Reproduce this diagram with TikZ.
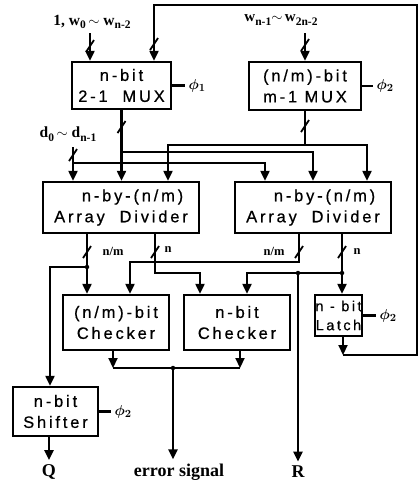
\documentclass[tikz,border=0pt]{standalone}
\usepackage{amsmath}
\usepackage{fontspec}
\setmainfont{Liberation Serif}
\newfontfamily\boxfont{Liberation Sans}[LetterSpace=17,FakeBold=0.6]
\usepackage{tikz}
\usetikzlibrary{positioning,calc,arrows.meta}

\newcommand{\lo}[1]{\raisebox{-0.5ex}{\fontsize{11.5}{10}\selectfont #1}}
\newcommand{\clk}[1]{{\fontsize{15}{15}\selectfont\boldmath$\phi_{#1}$}}
\newcommand{\busmark}[1]{\draw[line width=1.8pt] ($(#1)+(-4,6)$) -- ($(#1)+(4,-6)$);}

\begin{document}
\begin{tikzpicture}[x=1pt, y=-1pt, line width=2.2pt,
  blk/.style={draw, line width=2.4pt, align=center, inner sep=0pt,
    font=\boxfont\fontsize{16.5}{21}\selectfont},
  lbl/.style={font=\bfseries\fontsize{15.5}{15}\selectfont},
  blbl/.style={font=\bfseries\fontsize{12.5}{12}\selectfont},
  olbl/.style={font=\bfseries\fontsize{18}{18}\selectfont},
  bus/.style={-{Triangle[length=10pt,width=9pt]}},
  jdot/.style={circle, fill, inner sep=0pt, minimum size=4.5pt}]
  \useasboundingbox (0,0) rectangle (420,485);

  % MUX stage
  \node[blk, minimum width=99pt, minimum height=47pt] (mux1) at (121.5,85.5) {n-bit\\2-1 \ MUX};
  \node[blk, minimum width=112pt, minimum height=48pt] (mux2) at (305,86) {(n/m)-bit\\m-1 MUX};
  \node[lbl] (win1) at (92,22) {1,\ w\lo{0}\,$\sim$\ w\lo{n-2}};
  \node[lbl, font=\bfseries\fontsize{15}{15}\selectfont] (win2) at (281,20) {w\lo{n-1}$\sim$\,w\lo{2n-2}};
  \coordinate (a1) at (90,33);
  \coordinate (a2) at (305,33);
  \draw[bus] (a1) -- (a1 |- mux1.north);
  \draw[bus] (a2) -- (a2 |- mux2.north);
  \draw (mux1.east) -- ++(13,0) node[right=-1pt] (ph1) {\clk1};
  \draw (mux2.east) -- ++(11,0) node[right=-1pt] (ph2) {\clk2};

  % Dividers
  \node[blk, minimum width=156pt, minimum height=51pt] (div1) at (121,207.5) {\hspace*{1.4em}n-by-(n/m)\\Array \ Divider};
  \node[blk, minimum width=156pt, minimum height=51pt] (div2) at (313,207.5) {\hspace*{1.4em}n-by-(n/m)\\Array \ Divider};
  \node[lbl] (din) at (68,134) {d\lo{0}\,$\sim$\ d\lo{n-1}};
  \coordinate (d0) at (73,147);
  \coordinate (j1) at (121.5,152);
  \coordinate (j2) at (305,145);
  \coordinate (j3) at (73,163);
  \draw[bus] (d0) -- (d0 |- div1.north);
  \draw[bus] (j3) -| (div2.north -| 265,0);
  \draw[bus] (mux1.south) -- (mux1.south |- div1.north);
  \draw[bus] (j1) -| (div2.north);
  \draw (mux2.south) -- (j2);
  \draw[bus] (j2) -| (div1.north -| 168,0);
  \draw[bus] (j2) -| (div2.north -| 367,0);

  % Checkers, latch, shifter
  \node[blk, minimum width=106pt, minimum height=55pt] (chk1) at (116,322.5) {(n/m)-bit\\Checker};
  \node[blk, minimum width=106pt, minimum height=55pt] (chk2) at (237,322.5) {n-bit\\Checker};
  \node[blk, minimum width=47pt, minimum height=41pt, font=\boxfont\fontsize{14.5}{19}\selectfont] (latch) at (338.5,315.5) {n - bit\\Latch};
  \node[blk, minimum width=85pt, minimum height=49pt] (shift) at (55.5,411.5) {n-bit\\Shifter};
  \draw (latch.east) -- ++(13,0) node[right=-1pt] (ph3) {\clk2};
  \draw (shift.east) -- ++(12,0) node[right=-1pt] (ph4) {\clk2};

  % divider outputs
  \coordinate (q1) at (87,267);
  \coordinate (r0) at (342,273);
  \coordinate (r1) at (298,273);
  \draw[bus] (div1.south -| q1) -- (chk1.north -| q1);
  \draw[bus] (q1) -| (shift.north -| 50,0);
  \draw[bus] (div1.south -| 155,0) |- (200,273) -- (chk2.north -| 200,0);
  \draw[bus] (div2.south -| 299,0) |- (130,262) -- (chk1.north -| 130,0);
  \draw[bus] (div2.south -| r0) -- (latch.north -| r0);
  \draw[bus] (r0) -| (chk2.north -| 247,0);
  \node[jdot] (dq1) at (q1) {};
  \node[jdot] (dr0) at (r0) {};
  \node[jdot] (dr1) at (r1) {};
  \node[blbl] (nm1) at (113,251) {n/m};
  \node[blbl] (nn1) at (168,250) {n};
  \node[blbl] (nm2) at (274,251) {n/m};
  \node[blbl] (nn2) at (357,252) {n};

  % feedback from latch
  \coordinate (fb) at (343,355);
  \coordinate (top) at (417,5);
  \draw[bus] (latch.south -| fb) -- (fb);
  \draw[bus] (fb) -| (top) -| (mux1.north -| 154,0);

  % outputs
  \coordinate (e0) at (173,368);
  \draw[bus] (chk1.south -| 113,0) -- (113,368);
  \draw[bus] (chk2.south -| 240,0) -- (240,368);
  \draw (113,368) -- (240,368);
  \node[jdot] (de0) at (e0) {};
  \node[olbl] (qo) at (49,472) {Q};
  \node[olbl] (eo) at (179,472) {error signal};
  \node[olbl] (ro) at (298,472) {R};
  \draw[bus] (shift.south -| 49,0) -- (qo.north);
  \draw[bus] (e0) -- (e0 |- eo.north);
  \draw[bus] (r1) -- (ro.north);

  % bus width marks
  \busmark{90,46}
  \busmark{154,44}
  \busmark{305,45}
  \busmark{121.5,127}
  \busmark{305,126}
  \busmark{73,155}
  \busmark{87,252}
  \busmark{155,252}
  \busmark{299,252}
  \busmark{342,252}
\end{tikzpicture}
\end{document}
